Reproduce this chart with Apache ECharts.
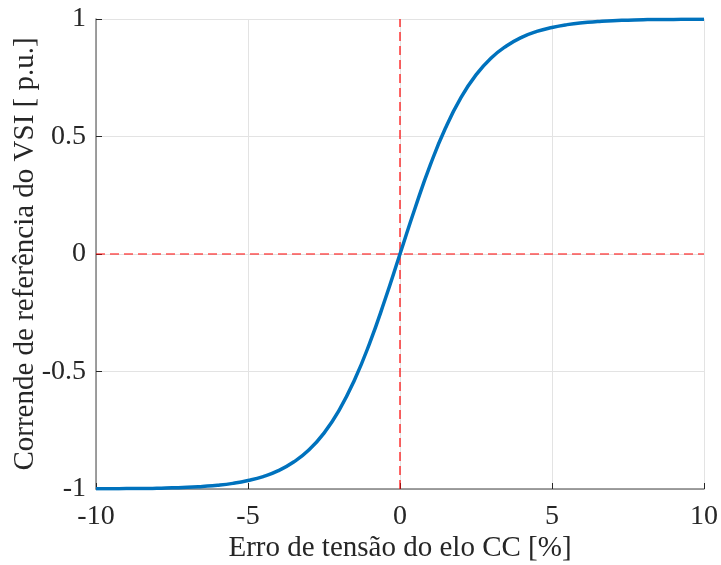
<!DOCTYPE html>
<html>
<head>
<meta charset="utf-8">
<script src="https://cdn.jsdelivr.net/npm/echarts@6/dist/echarts.min.js"></script>
<style>
  html, body { margin: 0; padding: 0; background: #fff; }
  #chart { width: 721px; height: 565px; }
</style>
</head>
<body>
<div id="chart"></div>
<script>
// erro de tensão [%] e corrente de referência [p.u.]
const erroTensao = [
  -10, -9.5, -9, -8.5, -8, -7.5, -7, -6.5, -6, -5.5, -5, -4.5, -4, -3.5, -3, -2.5, -2, -1.5, -1, -0.5,
  0, 0.5, 1, 1.5, 2, 2.5, 3, 3.5, 4, 4.5, 5, 5.5, 6, 6.5, 7, 7.5, 8, 8.5, 9, 9.5, 10
]
const correnteRef = [
  -0.999, -0.999, -0.998, -0.998, -0.997, -0.995, -0.993, -0.989, -0.984, -0.976, -0.964, -0.947, -0.922, -0.885, -0.834, -0.762, -0.664, -0.537, -0.380, -0.197,
  0, 0.197, 0.380, 0.537, 0.664, 0.762, 0.834, 0.885, 0.922, 0.947, 0.964, 0.976, 0.984, 0.989, 0.993, 0.995, 0.997, 0.998, 0.998, 0.999, 0.999
]
// linhas de referência (tracejadas)
const refVertical = [[0, -1], [0, 1]]
const refHorizontal = [[-10, 0], [10, 0]]

const fonte = 'Liberation Serif'
const chart = echarts.init(document.getElementById('chart'))

const option = {
  animation: false,
  grid: { left: 96, right: 17, top: 19, bottom: 76, outerBoundsMode: 'none' },
  xAxis: {
    type: 'value',
    min: -10,
    max: 10,
    interval: 5,
    name: 'Erro de tensão do elo CC [%]',
    nameLocation: 'middle',
    nameGap: 45,
    nameMoveOverlap: false,
    nameTextStyle: { fontFamily: fonte, fontSize: 29, color: '#262626' },
    axisLine: { show: true, onZero: false, lineStyle: { color: '#808080', width: 1.5 } },
    axisTick: { show: true, inside: true, length: 6, lineStyle: { color: '#262626' } },
    axisLabel: { fontFamily: fonte, fontSize: 28, color: '#262626', margin: 14 },
    splitLine: { show: true, lineStyle: { color: '#e3e3e3', width: 1 } }
  },
  yAxis: {
    type: 'value',
    min: -1,
    max: 1,
    interval: 0.5,
    name: 'Corrende de referência do VSI [ p.u.]',
    nameLocation: 'middle',
    nameGap: 56,
    nameMoveOverlap: false,
    nameTextStyle: { fontFamily: fonte, fontSize: 29, color: '#262626' },
    axisLine: { show: true, onZero: false, lineStyle: { color: '#808080', width: 1.5 } },
    axisTick: { show: true, inside: true, length: 6, lineStyle: { color: '#262626' } },
    axisLabel: { fontFamily: fonte, fontSize: 28, color: '#262626', margin: 10 },
    splitLine: { show: true, lineStyle: { color: '#e3e3e3', width: 1 } }
  },
  series: [
    {
      type: 'line',
      data: refHorizontal,
      symbol: 'none',
      lineStyle: { color: '#ff0000', width: 1.2, type: [9, 5] },
      z: 3
    },
    {
      type: 'line',
      data: refVertical,
      symbol: 'none',
      lineStyle: { color: '#ff0000', width: 1.2, type: [9, 5] },
      z: 3
    },
    {
      type: 'line',
      data: erroTensao.map((x, i) => [x, correnteRef[i]]),
      symbol: 'none',
      smooth: true,
      lineStyle: { color: '#0072bd', width: 3.5 },
      z: 4
    }
  ]
}
chart.setOption(option)
</script>
</body>
</html>
